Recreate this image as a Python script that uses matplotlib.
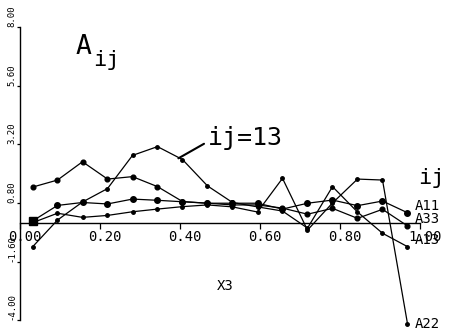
import numpy as np
import matplotlib
matplotlib.use("Agg")
import matplotlib.pyplot as plt
from matplotlib.transforms import ScaledTranslation

# Cell-centre positions along X3 (16 cells on [0, 1])
x3 = [(k + 0.5) / 16 for k in range(16)]

a11 = [0.06, 0.70, 0.82, 0.76, 0.96, 0.91, 0.85, 0.79,
       0.79, 0.79, 0.55, 0.79, 0.92, 0.69, 0.88, 0.40]
a33 = [1.45, 1.74, 2.49, 1.78, 1.88, 1.47, 0.86, 0.79,
       0.72, 0.72, 0.59, 0.34, 0.58, 0.17, 0.54, -0.14]
a13 = [-1.00, 0.10, 0.84, 1.39, 2.75, 3.11, 2.58, 1.50,
       0.82, 0.64, 0.47, -0.23, 1.47, 0.43, -0.44, -0.99]
a22 = [-0.01, 0.38, 0.21, 0.29, 0.44, 0.55, 0.65, 0.72,
       0.64, 0.43, 1.81, -0.31, 0.80, 1.78, 1.74, -4.15]

xticks = [0.0, 0.2, 0.4, 0.6, 0.8, 1.0]
xtick_labels = ["0.00", "0.20", "0.40", "0.60", "0.80", "1.00"]
yticks = [-4.0, -1.6, 0.8, 3.2, 5.6, 8.0]
ytick_labels = ["-4.00", "-1.60", "0.80", "3.20", "5.60", "8.00"]

MONO = "DejaVu Sans Mono"
plt.rcParams["font.family"] = [MONO]

fig = plt.figure(figsize=(4.5, 3.3), dpi=100)
W, H = 450, 330
left, right, top, bottom = 20, 420, 27.3, 320.1
ax = fig.add_axes([left / W, 1 - bottom / H, (right - left) / W, (bottom - top) / H])
ax.set_xlim(0, 1.0)
ax.set_ylim(-4, 8)

for s in ("top", "right"):
    ax.spines[s].set_visible(False)
ax.spines["bottom"].set_position(("data", 0))
for s in ("left", "bottom"):
    ax.spines[s].set_linewidth(1.0)

lw = 0.9
ax.plot(x3, a11, "-o", color="black", lw=lw, ms=4.0, clip_on=False)
ax.plot(x3[:1], a11[:1], "s", color="black", ms=6, clip_on=False)
ax.plot(x3, a33, "-o", color="black", lw=lw, ms=3.4, clip_on=False)
ax.plot(x3, a13, "-o", color="black", lw=lw, ms=2.5, clip_on=False)
ax.plot(x3, a22, "-o", color="black", lw=lw, ms=2.5, clip_on=False)

# Axis ticks
ax.set_xticks(xticks)
ax.set_xticklabels(xtick_labels, fontsize=10)
ax.tick_params(axis="x", direction="out", length=4, width=0.9, pad=1.5)
shift = ScaledTranslation(5 / 100, 0, fig.dpi_scale_trans)
for lab in ax.get_xticklabels():
    lab.set_transform(lab.get_transform() + shift)

ax.set_yticks(yticks)
ax.set_yticklabels(ytick_labels, fontsize=6.5)
ax.tick_params(axis="y", direction="out", length=2, width=0.9, pad=0.5)
for lab in ax.get_yticklabels():
    lab.set_rotation(90)
    lab.set_va("bottom")
    lab.set_ha("right")

ax.text(0.5125, -2.6, "X3", fontsize=10, ha="center", va="center")

# Curve end labels
for name, ys, va in (("A11", a11, "bottom"), ("A33", a33, "bottom"),
                     ("A13", a13, "bottom"), ("A22", a22, "center")):
    ax.annotate(name, (x3[-1], ys[-1]), xytext=(5, 0), textcoords="offset points",
                fontsize=10, va=va, ha="left", annotation_clip=False)

# Titles and callouts
fig.text(76 / W, 1 - 54 / H, "A", fontsize=19, ha="left", va="baseline")
fig.text(93 / W, 1 - 66 / H, "ij", fontsize=16, ha="left", va="baseline")
fig.text(418 / W, 1 - 184 / H, "ij", fontsize=16, ha="left", va="baseline")

ax.annotate("ij=13", xy=(0.396, 2.63), xytext=(0.47, 3.18),
            fontsize=18, ha="left", va="baseline",
            arrowprops=dict(arrowstyle="-", color="black", lw=1.5,
                            relpos=(0.0, 0.35), shrinkA=1, shrinkB=0))

fig.savefig("out.png", dpi=100)
